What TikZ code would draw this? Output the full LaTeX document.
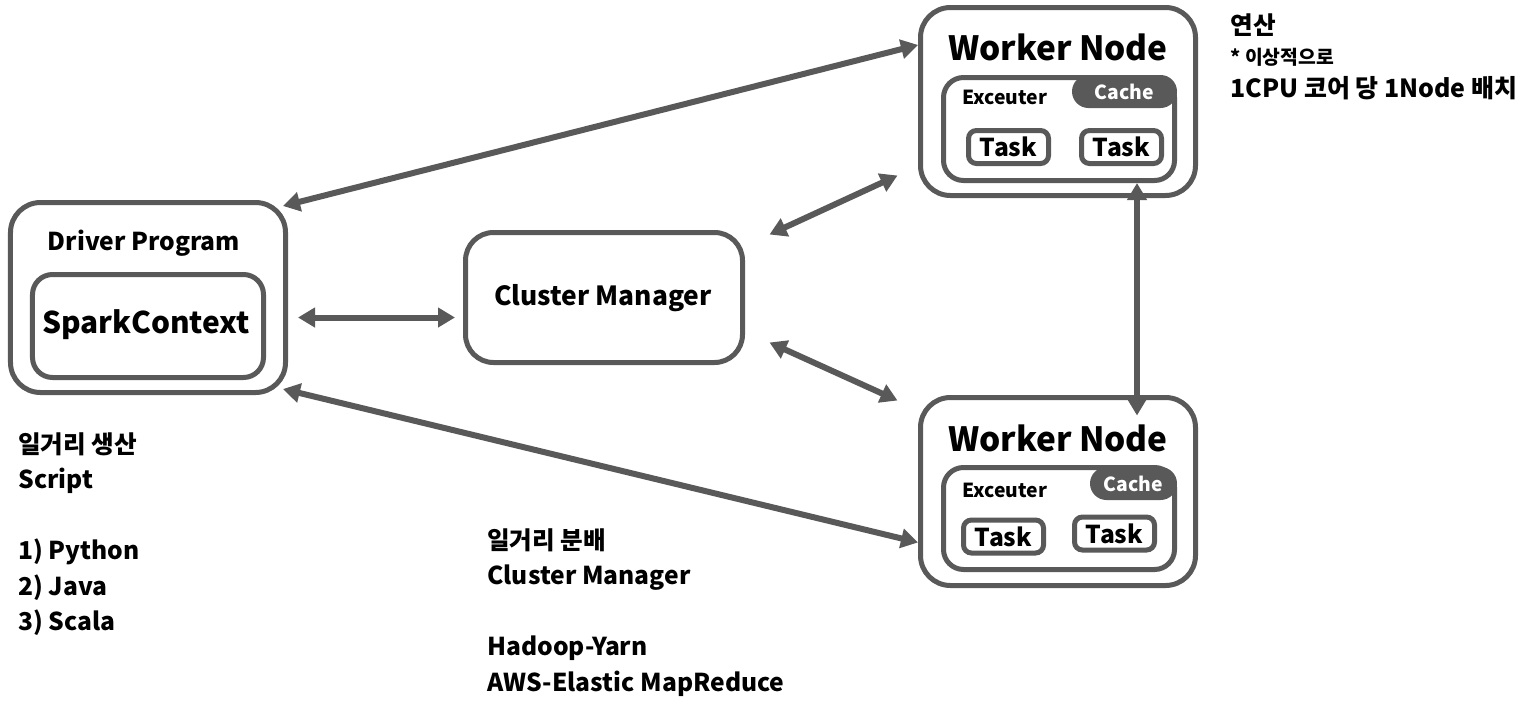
\documentclass[tikz,border=0pt]{standalone}
\usepackage{fontspec}
\setmainfont{Noto Sans CJK KR}
\usetikzlibrary{arrows.meta,positioning}
\definecolor{boxgray}{RGB}{89,89,89}

\tikzset{
  outerbox/.style={draw=boxgray,line width=1mm,rounded corners=6mm,inner sep=0pt},
  innerbox/.style={draw=boxgray,line width=1mm,rounded corners=4mm,inner sep=0pt},
  taskbox/.style={draw=boxgray,line width=1mm,rounded corners=1.6mm,inner sep=0pt,
    minimum width=16mm,minimum height=6.6mm,font=\fontsize{14pt}{16pt}\selectfont\bfseries},
  cachebox/.style={fill=boxgray,rounded corners=3.3mm,inner sep=0pt,minimum height=6.6mm,
    text=white,font=\fontsize{11pt}{13pt}\selectfont\bfseries},
  link/.style={draw=boxgray,line width=1.2mm,<->,>={Triangle[length=3.4mm,width=3.8mm]}},
  title/.style={font=\fontsize{#1}{#1}\selectfont\bfseries,inner sep=0pt},
  note/.style={font=\fontsize{14pt}{7.1mm}\selectfont\bfseries,align=left,inner sep=0pt,anchor=north west}
}

\begin{document}
\begin{tikzpicture}[x=0.2mm,y=-0.2mm]
  \useasboundingbox[fill=white] (0,0) rectangle (1536,715);

  % driver side
  \node[outerbox,minimum width=55mm,minimum height=38mm] (driver) at (148,297.5) {};
  \node[innerbox,minimum width=46.2mm,minimum height=20.6mm] (spark) at (148,326) {};
  \node[title=14pt] (drivertitle) at (144,243) {Driver Program};
  \node[title=17pt] (sparktitle) at (146,325) {SparkContext};

  % cluster manager
  \node[outerbox,rounded corners=5.6mm,minimum width=55.4mm,minimum height=26mm] (cluster) at (604,297.5) {};
  \node[title=15pt] (clustertitle) at (603,298) {Cluster Manager};

  % worker nodes
  \node[outerbox,minimum width=55mm,minimum height=37.6mm] (worker1) at (1058,101.5) {};
  \node[title=19pt] (worker1title) at (1058,47) {Worker Node};
  \node[innerbox,minimum width=46.2mm,minimum height=20.6mm] (exec1) at (1059,129) {};
  \node[cachebox,minimum width=21mm] (cache1) at (1124.5,91.5) {Cache};
  \node[title=11pt,anchor=west] (exec1title) at (962,97) {Exceuter};
  \node[taskbox] (task1a) at (1008.5,147) {Task};
  \node[taskbox] (task1b) at (1121.5,147) {Task};

  \node[outerbox,minimum width=55mm,minimum height=37.6mm] (worker2) at (1058,491.5) {};
  \node[title=19pt] (worker2title) at (1058,438) {Worker Node};
  \node[innerbox,minimum width=46.2mm,minimum height=20.4mm] (exec2) at (1059,518.5) {};
  \node[cachebox,minimum width=17.4mm] (cache2) at (1133.5,483.5) {Cache};
  \node[title=11pt,anchor=west] (exec2title) at (962,490) {Exceuter};
  \node[taskbox] (task2a) at (1003.5,536.5) {Task};
  \node[taskbox] (task2b) at (1114.5,533.5) {Task};

  % connectors
  \draw[link] ([xshift=-1mm,yshift=-1.2mm]driver.north east) -- (worker1.158);
  \draw[link,shorten <=2mm,shorten >=1.6mm] ([yshift=-4mm]driver.east) -- ([yshift=-4mm]cluster.west);
  \draw[link] ([xshift=-1mm,yshift=1.2mm]driver.south east) -- (worker2.200);
  \draw[link] ([xshift=4.9mm,yshift=-0.9mm]cluster.north east) -- ([xshift=-4.1mm,yshift=4.5mm]worker1.south west);
  \draw[link] ([xshift=4.9mm,yshift=4.5mm]cluster.south east) -- ([xshift=-4.1mm,yshift=-1.1mm]worker2.north west);
  \draw[link] ([xshift=15.6mm]exec1.south) -- ([xshift=15.8mm,yshift=-4.1mm]worker2.north);

  % notes
  \node[note] (drivernote) at (18,432) {일거리 생산\\Script\\[7.1mm]1) Python\\2) Java\\3) Scala};
  \node[note] (clusternote) at (487,528) {일거리 분배\\Cluster Manager\\[7.1mm]Hadoop-Yarn\\AWS-Elastic MapReduce};
  \node[title=14pt,anchor=west] (worknote) at (1230,25) {연산};
  \node[title=11pt,anchor=west] (worknote2) at (1230,57) {* 이상적으로};
  \node[title=14.2pt,anchor=west] (worknote3) at (1230,88) {1CPU 코어 당 1Node 배치};
\end{tikzpicture}
\end{document}
